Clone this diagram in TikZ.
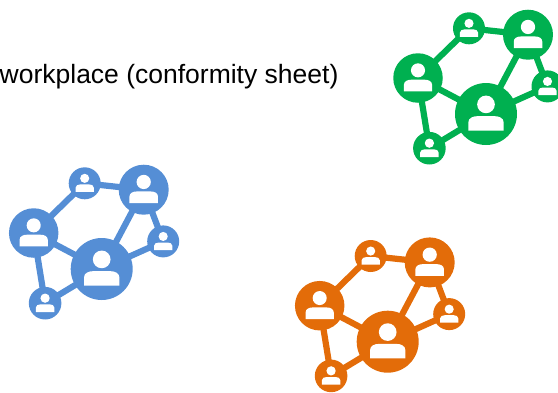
\documentclass[tikz,border=0pt]{standalone}
\usepackage{fontspec}
\setmainfont{Liberation Sans}
\usetikzlibrary{backgrounds}
\definecolor{netgreen}{HTML}{00B050}
\definecolor{netblue}{HTML}{558ED5}
\definecolor{netorange}{HTML}{E36C09}
\tikzset{
  hub/.style={circle,fill=#1,draw=none,inner sep=0pt,outer sep=0pt},
  linkline/.style={line width=6.2pt,draw=#1},
  caption/.style={font=\fontsize{26.5pt}{30pt}\selectfont,text=black,anchor=base west,inner sep=0pt}
}
% person icon inside a circle of radius #2 (pt) centred on node #1
\newcommand{\personicon}[2]{%
  \begin{scope}[shift={(#1.center)},x=#2pt,y=-#2pt]
    \fill[white] (0,-.31) circle[radius=.285];
    \fill[white] (-.57,.54) -- (-.57,.27) .. controls (-.57,.13) and (-.42,.07) .. (-.28,.07)
      -- (.28,.07) .. controls (.42,.07) and (.57,.13) .. (.57,.27) -- (.57,.54) -- cycle;
  \end{scope}}
% network #1 prefix, #2 colour, (#3,#4) centre of the largest circle
\newcommand{\network}[4]{%
  \begin{scope}[shift={(#3,#4)}]
    \node[hub=#2,minimum size=62pt] (#1c) at (0,0) {};
    \node[hub=#2,minimum size=49.5pt] (#1l) at (-68,-36) {};
    \node[hub=#2,minimum size=32pt] (#1t) at (-17,-85.7) {};
    \node[hub=#2,minimum size=50pt] (#1u) at (42,-79.3) {};
    \node[hub=#2,minimum size=32pt] (#1r) at (61.5,-27.6) {};
    \node[hub=#2,minimum size=32.6pt] (#1b) at (-56.6,34.2) {};
    \begin{pgfonlayer}{background}
      \draw[linkline=#2] (#1l.center) -- (#1t.center);
      \draw[linkline=#2] (#1t.center) -- (#1u.center);
      \draw[linkline=#2] (#1u.center) -- (#1c.center);
      \draw[linkline=#2] (#1u.center) -- (#1r.center);
      \draw[linkline=#2] (#1c.center) -- (#1r.center);
      \draw[linkline=#2] (#1c.center) -- (#1l.center);
      \draw[linkline=#2] (#1c.center) -- (#1b.center);
      \draw[linkline=#2] (#1l.center) -- (#1b.center);
    \end{pgfonlayer}
    \personicon{#1c}{31}
    \personicon{#1l}{24.7}
    \personicon{#1t}{16}
    \personicon{#1u}{25}
    \personicon{#1r}{16}
    \personicon{#1b}{16.3}
  \end{scope}}
\begin{document}
\begin{tikzpicture}[x=1pt,y=-1pt]
  \useasboundingbox (0,0) rectangle (558,392);
  \clip (0,0) rectangle (558,392);
  \node[caption] (title) at (-0.5,83) {workplace (conformity sheet)};
  \network{g}{netgreen}{486}{114}
  \network{a}{netblue}{101.7}{269}
  \network{o}{netorange}{387.7}{341.7}
\end{tikzpicture}
\end{document}
